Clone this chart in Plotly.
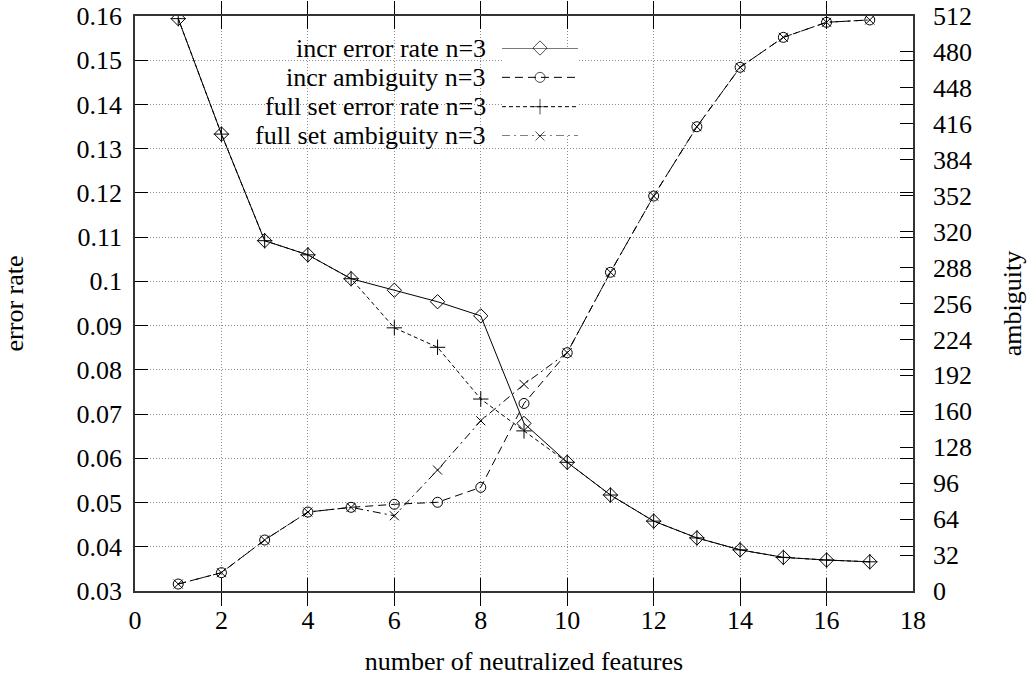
import plotly.graph_objects as go

# ---- data ----
x_vals = list(range(1, 18))
incr_error = [0.1594, 0.1333, 0.1092, 0.1060, 0.1006, 0.0980, 0.0954, 0.0922, 0.0679,
              0.0591, 0.0517, 0.0458, 0.0420, 0.0393, 0.0376, 0.0370, 0.0366]
incr_ambig = [6.2, 16.3, 45.4, 70.3, 74.5, 77.2, 79.0, 92.3, 167.0,
              212.2, 283.8, 351.7, 413.4, 466.3, 493.0, 506.4, 508.5]
full_error = [0.1594, 0.1333, 0.1092, 0.1060, 0.1006, 0.0895, 0.0851, 0.0734, 0.0662,
              0.0591, 0.0517, 0.0458, 0.0420, 0.0393, 0.0376, 0.0370, 0.0366]
full_ambig = [6.2, 16.3, 45.4, 70.3, 74.5, 67.0, 107.7, 151.6, 184.0,
              212.2, 283.8, 351.7, 413.4, 466.3, 493.0, 506.4, 508.5]

series_names = ["incr error rate n=3", "incr ambiguity n=3",
                "full set error rate n=3", "full set ambiguity n=3"]

x_ticks = [0, 2, 4, 6, 8, 10, 12, 14, 16, 18]
y_ticks = [0.03, 0.04, 0.05, 0.06, 0.07, 0.08, 0.09, 0.10, 0.11, 0.12, 0.13, 0.14, 0.15, 0.16]
y_tick_text = ["0.03", "0.04", "0.05", "0.06", "0.07", "0.08", "0.09", "0.1",
               "0.11", "0.12", "0.13", "0.14", "0.15", "0.16"]
y2_ticks = list(range(0, 513, 32))

FONT = "Liberation Serif, Times New Roman, Times, DejaVu Serif, serif"
FS = 26

styles = [
    dict(dash="solid", symbol="diamond-open", size=11),
    dict(dash="8px,5px", symbol="circle-open", size=10),
    dict(dash="4px,3px", symbol="cross-thin-open", size=11),
    dict(dash="8px,4px,2px,4px", symbol="x-thin-open", size=9),
]

fig = go.Figure()
data_sets = [(incr_error, "y"), (incr_ambig, "y2"), (full_error, "y"), (full_ambig, "y2")]
for (vals, ax), st, nm in zip(data_sets, styles, series_names):
    fig.add_trace(go.Scatter(
        x=x_vals, y=vals, yaxis=ax, mode="lines+markers", name=nm, showlegend=False,
        line=dict(color="black", width=1, dash=st["dash"]),
        marker=dict(symbol=st["symbol"], size=st["size"], color="black",
                    line=dict(color="black", width=1)),
    ))

# ---- custom legend (text left of sample, gnuplot style) on a hidden helper axis ----
legend_rows_paper = [0.9443, 0.8927, 0.8423, 0.7918]
for i, (st, nm) in enumerate(zip(styles, series_names)):
    fig.add_trace(go.Scatter(
        x=[0, 0.5, 1], y=[i, i, i], xaxis="x3", yaxis="y3", mode="lines+markers",
        showlegend=False, hoverinfo="skip", cliponaxis=False,
        line=dict(color="black", width=1, dash=st["dash"]),
        marker=dict(symbol=st["symbol"], size=[0, st["size"], 0], color="black",
                    line=dict(color="black", width=1)),
    ))
    fig.add_annotation(x=0.4537, y=legend_rows_paper[i], xref="paper", yref="paper",
                       text=nm, showarrow=False, xanchor="right", yanchor="middle",
                       font=dict(family=FONT, size=FS, color="black"))

# opaque key box hiding the grid behind it
fig.add_shape(type="rect", xref="paper", yref="paper", x0=0, x1=0.5835, y0=0.764, y1=1,
              fillcolor="white", line=dict(width=0), layer="between")

axis_common = dict(
    showline=True, linecolor="#333333", linewidth=1.5,
    ticks="inside", ticklen=13, tickcolor="black", tickwidth=1,
    tickfont=dict(family=FONT, size=FS, color="black"),
    zeroline=False, automargin=False,
)
grid_common = dict(showgrid=True, gridcolor="#8c8c8c", griddash="1px,2px", gridwidth=1)

fig.update_layout(
    width=1029, height=678,
    margin=dict(l=135, r=116, t=16, b=87),
    plot_bgcolor="white", paper_bgcolor="white",
    font=dict(family=FONT, size=FS, color="black"),
    xaxis=dict(range=[0, 18], tickvals=x_ticks, mirror="allticks", ticklabelstandoff=5,
               title=dict(text="number of neutralized features", standoff=18,
                          font=dict(family=FONT, size=FS)),
               **grid_common, **axis_common),
    yaxis=dict(range=[0.03, 0.16], tickvals=y_ticks, ticktext=y_tick_text, mirror="allticks",
               ticklabelstandoff=6,
               title=dict(text="error rate", standoff=46, font=dict(family=FONT, size=FS)),
               **grid_common, **axis_common),
    yaxis2=dict(range=[0, 512], tickvals=y2_ticks, overlaying="y", side="right",
                showgrid=False, ticklabelstandoff=13,
                title=dict(text="ambiguity", standoff=32, font=dict(family=FONT, size=FS)),
                **axis_common),
    xaxis3=dict(domain=[0.4717, 0.5694], range=[0, 1], visible=False, fixedrange=True),
    yaxis3=dict(domain=[0.7913, 0.9443], range=[3.0, 0.0], visible=False, anchor="x3",
                fixedrange=True),
)

fig.write_html("out.html")
